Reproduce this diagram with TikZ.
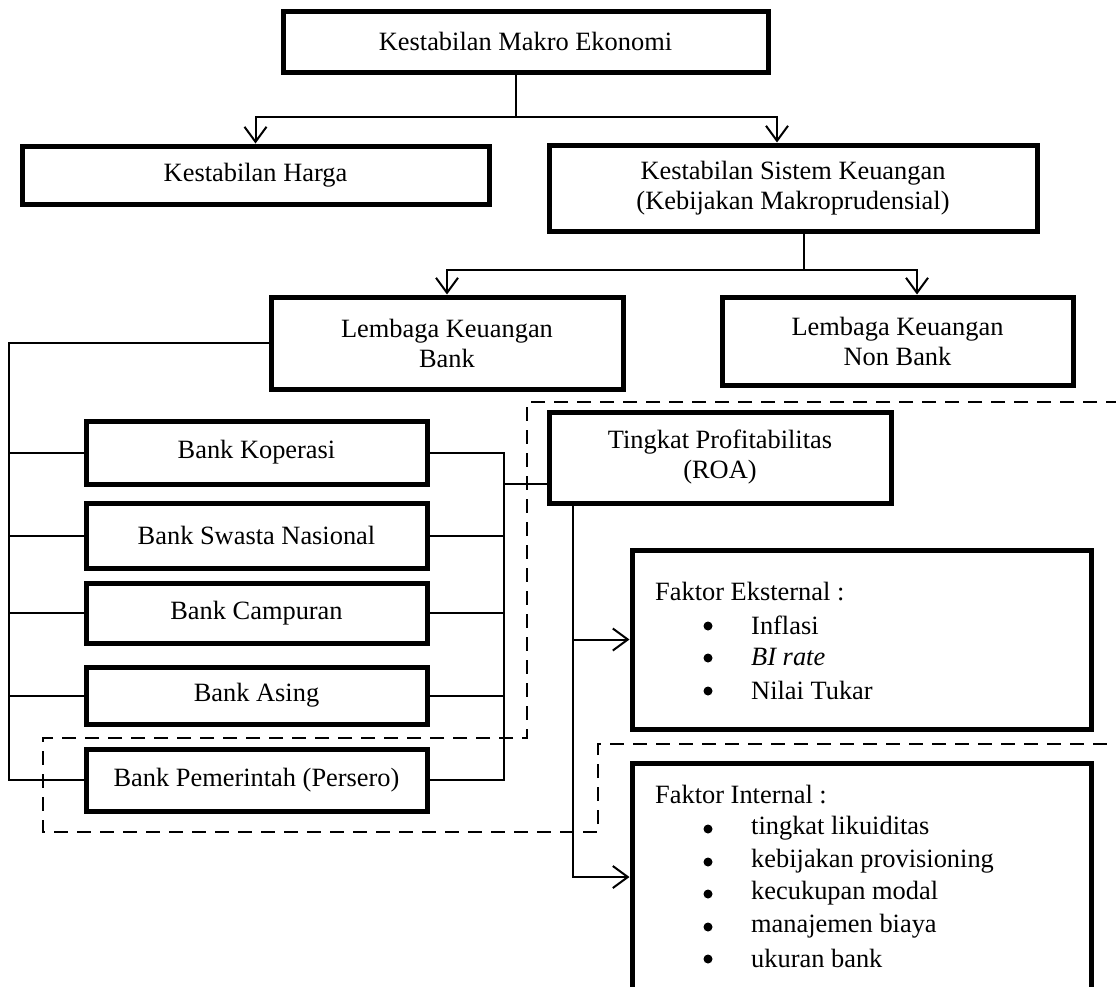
\documentclass[tikz,border=0pt]{standalone}
\usepackage{fontspec}
\setmainfont{Liberation Serif}
\usetikzlibrary{arrows.meta}
\begin{document}
\begin{tikzpicture}[x=1pt,y=-1pt,
  box/.style={draw, line width=5pt, inner sep=0pt, align=center, font=\fontsize{26.4}{30}\selectfont},
  ln/.style={line width=2pt},
  arr/.style={line width=2pt, -{Straight Barb[length=15pt,width=22pt]}},
  lbl/.style={inner sep=0pt, anchor=west, font=\fontsize{26.4}{30}\selectfont},
  bul/.style={circle, fill=black, inner sep=0pt, minimum size=9pt},
  dsh/.style={line width=2pt, dash pattern=on 14pt off 9pt}]
\useasboundingbox (0,0) rectangle (1116,986);
\fill[white] (0,0) rectangle (1116,986);
\begin{scope}
\clip (0,0) rectangle (1116,986);
% boxes
\node[box, minimum width=485pt, minimum height=61pt] (top) at (525.5,41.5) {Kestabilan Makro Ekonomi};
\node[box, minimum width=467pt, minimum height=58pt] (harga) at (255.5,175) {Kestabilan Harga};
\node[box, minimum width=488pt, minimum height=86pt] (sistem) at (793,188) {Kestabilan Sistem Keuangan\\(Kebijakan Makroprudensial)};
\node[box, minimum width=352pt, minimum height=92pt] (lkb) at (447,343) {Lembaga Keuangan\\Bank};
\node[box, minimum width=351pt, minimum height=88pt] (nonbank) at (897.5,341) {Lembaga Keuangan\\Non Bank};
\node[box, minimum width=341pt, minimum height=63pt] (kop) at (256.5,452.5) {Bank Koperasi};
\node[box, minimum width=341pt, minimum height=65pt] (swa) at (256.5,535.5) {Bank Swasta Nasional};
\node[box, minimum width=341pt, minimum height=60pt] (cam) at (256.5,613) {Bank Campuran};
\node[box, minimum width=341pt, minimum height=57pt] (asi) at (256.5,695.5) {Bank Asing};
\node[box, minimum width=341pt, minimum height=62pt] (pem) at (256.5,780) {Bank Pemerintah (Persero)};
\node[box, minimum width=342pt, minimum height=91pt] (roa) at (720,457.5) {Tingkat Profitabilitas\\(ROA)};
\node[box, minimum width=459pt, minimum height=179pt] (ext) at (861.5,639.5) {};
\node[box, minimum width=459pt, minimum height=232pt] (int) at (861.5,879) {};
% texts of factor boxes
\node[lbl] (extt) at (655,592) {Faktor Eksternal :};
\node[bul] (eb1) at (708,626) {}; \node[lbl] (ei1) at (751,625) {Inflasi};
\node[bul] (eb2) at (708,658) {}; \node[lbl] (ei2) at (751,657) {\itshape BI rate};
\node[bul] (eb3) at (708,691) {}; \node[lbl] (ei3) at (751,690) {Nilai Tukar};
\node[lbl] (intt) at (655,795) {Faktor Internal :};
\node[bul] (ib1) at (708,829) {}; \node[lbl] (ii1) at (751,828) {tingkat likuiditas};
\node[bul] (ib2) at (708,862) {}; \node[lbl] (ii2) at (751,861) {kebijakan provisioning};
\node[bul] (ib3) at (708,894) {}; \node[lbl] (ii3) at (751,893) {kecukupan modal};
\node[bul] (ib4) at (708,927) {}; \node[lbl] (ii4) at (751,926) {manajemen biaya};
\node[bul] (ib5) at (708,959) {}; \node[lbl] (ii5) at (751,958) {ukuran bank};
% connectors level 1
\coordinate (j1) at (516,117);
\coordinate (hR) at (777,117);
\draw[ln] (j1 |- top.south) -- (j1);
\draw[arr] (j1) -| (harga.north);
\draw[arr] (j1) -| (hR |- sistem.north);
% level 2
\coordinate (j2) at (804,270);
\coordinate (nbx) at (917,270);
\draw[ln] (j2 |- sistem.south) -- (j2);
\draw[arr] (j2) -| (lkb.north);
\draw[arr] (j2) -| (nbx |- nonbank.north);
% left bus
\coordinate (lbus) at (9,343);
\draw[ln] (lkb.west) -- (lbus) -- (lbus |- pem.west) -- (pem.west);
\draw[ln] (lbus |- kop.west) -- (kop.west);
\draw[ln] (lbus |- swa.west) -- (swa.west);
\draw[ln] (lbus |- cam.west) -- (cam.west);
\draw[ln] (lbus |- asi.west) -- (asi.west);
% right bus
\coordinate (rbus) at (504,484);
\draw[ln] (kop.east) -- (kop.east -| rbus) -- (pem.east -| rbus) -- (pem.east);
\draw[ln] (swa.east) -- (swa.east -| rbus);
\draw[ln] (cam.east) -- (cam.east -| rbus);
\draw[ln] (asi.east) -- (asi.east -| rbus);
\draw[ln] (rbus) -- (rbus -| roa.west);
% trunk from ROA
\coordinate (tr) at (573,877);
\draw[arr] (tr |- roa.south) |- (ext.west);
\draw[arr] (tr |- roa.south) -- (tr) -- (tr -| int.west);
% dashed outline
\draw[dsh] (1120,402) -- (527,402) -- (527,738) -- (43,738) -- (43,832) -- (598,832) -- (598,744) -- (1120,744);
\end{scope}
\end{tikzpicture}
\end{document}
